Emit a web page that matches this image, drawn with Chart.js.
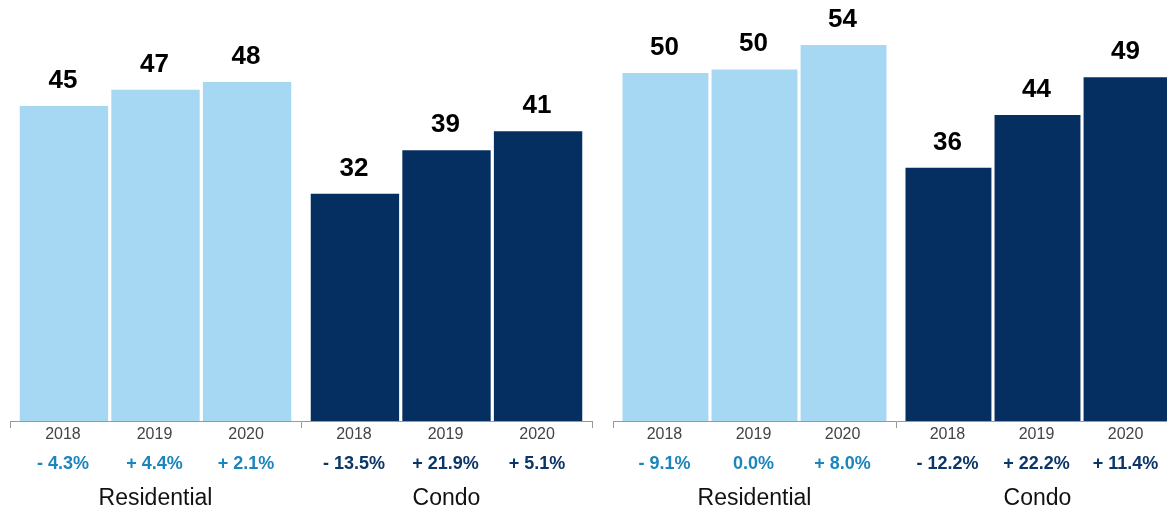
<!DOCTYPE html>
<html>
<head>
<meta charset="utf-8">
<script src="https://cdn.jsdelivr.net/npm/chart.js@4/dist/chart.umd.min.js"></script>
<style>
    html, body { margin: 0; padding: 0; background: #fff; }
    body { width: 1167px; height: 512px; overflow: hidden; position: relative; }
    canvas { position: absolute; top: 0; }
    #leftChart { left: 0; }
    #rightChart { left: 600px; }
</style>
</head>
<body>
<canvas id="leftChart" width="600" height="512"></canvas>
<canvas id="rightChart" width="588" height="512"></canvas>
<script>
const years = ['2018', '2019', '2020'];
const groups = ['Residential', 'Condo'];

// Left panel
const leftResidential = [44.9, 47.2, 48.3];
const leftCondo = [32.4, 38.6, 41.3];
const leftResidentialChange = [-4.3, 4.4, 2.1];
const leftCondoChange = [-13.5, 21.9, 5.1];

// Right panel
const rightResidential = [49.6, 50.1, 53.6];
const rightCondo = [36.1, 43.6, 49.0];
const rightResidentialChange = [-9.1, 0.0, 8.0];
const rightCondoChange = [-12.2, 22.2, 11.4];

const FONT = '"Liberation Sans", Arial, Helvetica, sans-serif';
const lightBlue = '#a6d8f4';
const navy = '#052f61';
const lightText = '#1b85bd';
const navyText = '#0b3667';

function formatChange(v) {
    if (v === 0) return v.toFixed(1) + '%';
    return (v < 0 ? '- ' : '+ ') + Math.abs(v).toFixed(1) + '%';
}

// Draws value labels above the bars and year / change labels under them
const barLabels = {
    id: 'barLabels',
    afterDatasetsDraw(chart) {
        const ctx = chart.ctx;
        const bottom = chart.chartArea.bottom;
        ctx.save();
        ctx.textAlign = 'center';
        chart.data.datasets.forEach((ds, i) => {
            const meta = chart.getDatasetMeta(i);
            meta.data.forEach((bar, j) => {
                ctx.fillStyle = '#000';
                ctx.font = 'bold 26px ' + FONT;
                ctx.textBaseline = 'alphabetic';
                ctx.fillText(Math.round(ds.data[j]), bar.x - 1, bar.y - 18);

                ctx.textBaseline = 'middle';
                ctx.fillStyle = '#444';
                ctx.font = '16px ' + FONT;
                ctx.fillText(ds.label, bar.x - 1, bottom + 14);

                ctx.fillStyle = j === 0 ? lightText : navyText;
                ctx.font = 'bold 18px ' + FONT;
                ctx.fillText(formatChange(ds.changes[j]), bar.x - 1, bottom + 43);
            });
        });
        ctx.restore();
    }
};

function makeChart(id, residential, condo, resChange, condoChange, padding) {
    const datasets = years.map((year, i) => ({
        label: year,
        data: [residential[i], condo[i]],
        changes: [resChange[i], condoChange[i]],
        backgroundColor: [lightBlue, navy],
        borderWidth: 0,
        categoryPercentage: 0.944,
        barPercentage: 0.965
    }));

    return new Chart(document.getElementById(id), {
        type: 'bar',
        data: { labels: groups, datasets },
        plugins: [barLabels],
        options: {
            responsive: false,
            animation: false,
            layout: { padding },
            plugins: {
                legend: { display: false },
                tooltip: { enabled: false }
            },
            scales: {
                x: {
                    grid: {
                        drawOnChartArea: false,
                        drawTicks: true,
                        tickLength: 7,
                        color: '#999',
                        offset: true
                    },
                    border: { color: '#999', width: 1 },
                    ticks: {
                        padding: 57,
                        color: '#111',
                        font: { family: FONT, size: 23 }
                    },
                    afterFit(scale) {
                        scale.height = 91;
                    }
                },
                y: {
                    display: false,
                    min: 0,
                    max: 60
                }
            }
        }
    });
}

makeChart('leftChart', leftResidential, leftCondo, leftResidentialChange, leftCondoChange,
    { left: 10, right: 8, top: 0, bottom: 0 });
makeChart('rightChart', rightResidential, rightCondo, rightResidentialChange, rightCondoChange,
    { left: 13, right: 9, top: 0, bottom: 0 });
</script>
</body>
</html>
